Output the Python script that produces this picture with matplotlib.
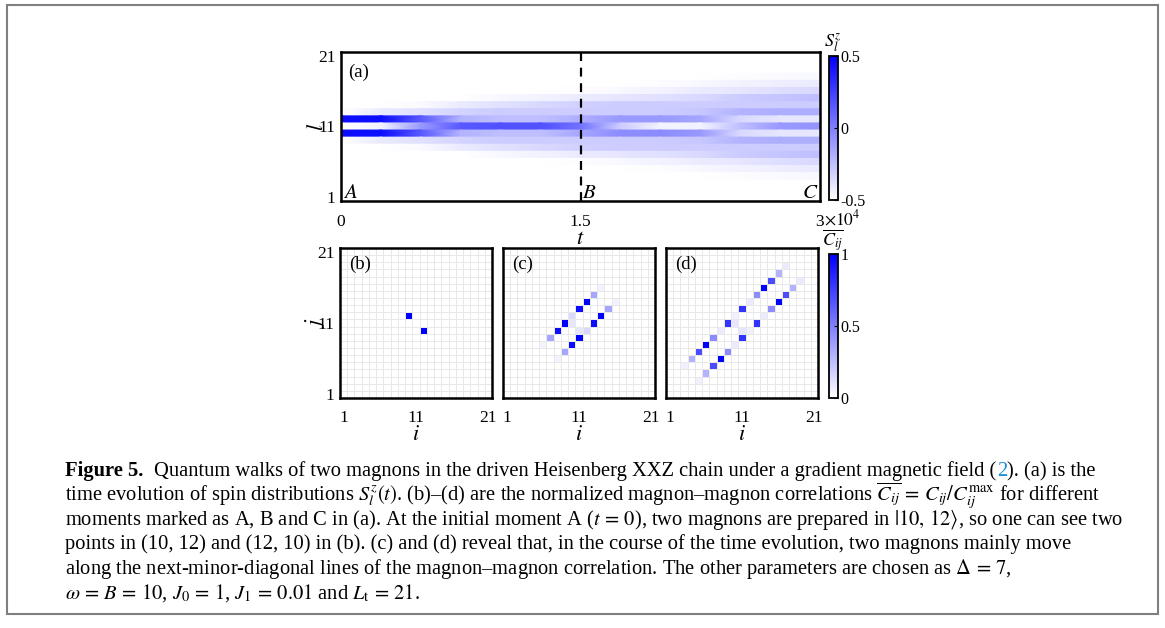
import numpy as np
import matplotlib
matplotlib.use("Agg")
import matplotlib.pyplot as plt
from matplotlib.colors import LinearSegmentedColormap
from matplotlib.patches import Rectangle
from matplotlib.transforms import IdentityTransform

plt.rcParams['font.family'] = ['Liberation Serif', 'DejaVu Serif']
plt.rcParams['mathtext.fontset'] = 'stix'

# ---- data ----
# (a) spin distribution S_l^z(t), time in units of 1e4
t_knots = [0, 0.25, 0.5, 0.75, 1.0, 1.25, 1.5, 1.75, 2.0, 2.25, 2.5, 2.75, 3.0]
sites = [18, 17, 16, 15, 14, 13, 12, 11, 10, 9, 8, 7, 6, 5, 4]
sz_rows = [
    [-.5, -.5, -.5, -.5, -.5, -.5, -.5, -.5, -.5, -.5, -.49, -.48, -.47],
    [-.5, -.5, -.5, -.5, -.5, -.5, -.5, -.5, -.49, -.47, -.45, -.43, -.42],
    [-.5, -.5, -.5, -.5, -.5, -.5, -.49, -.47, -.45, -.42, -.4, -.37, -.35],
    [-.5, -.5, -.5, -.5, -.47, -.45, -.42, -.4, -.38, -.35, -.3, -.27, -.25],
    [-.5, -.5, -.48, -.42, -.38, -.35, -.32, -.3, -.3, -.3, -.3, -.3, -.3],
    [-.5, -.42, -.38, -.33, -.3, -.3, -.3, -.3, -.3, -.28, -.2, -.18, -.18],
    [.45, .45, .15, -.2, -.25, -.25, -.18, -.1, -.1, -.15, -.35, -.4, -.4],
    [-.5, -.45, -.1, .15, .18, .18, .05, -.3, -.45, -.45, -.25, -.1, -.08],
    [.45, .45, .15, -.2, -.25, -.25, -.15, -.05, -.05, -.1, -.35, -.4, -.4],
    [-.5, -.42, -.38, -.33, -.3, -.3, -.3, -.3, -.3, -.28, -.2, -.18, -.18],
    [-.5, -.5, -.48, -.42, -.38, -.35, -.32, -.3, -.3, -.3, -.3, -.3, -.3],
    [-.5, -.5, -.5, -.5, -.47, -.45, -.42, -.4, -.38, -.35, -.3, -.27, -.25],
    [-.5, -.5, -.5, -.5, -.5, -.5, -.49, -.47, -.45, -.42, -.4, -.37, -.35],
    [-.5, -.5, -.5, -.5, -.5, -.5, -.5, -.5, -.49, -.47, -.45, -.43, -.42],
    [-.5, -.5, -.5, -.5, -.5, -.5, -.5, -.5, -.5, -.5, -.49, -.48, -.47],
]

# (b)-(d) normalized correlations along the line j = i + 2 (matrix is symmetric)
i_b = [10]
c_b = [1.0]
i_c = [6, 7, 8, 9, 10, 11, 12, 13, 14]
c_c = [0.05, 0.35, 0.95, 1.0, 0.15, 0.95, 1.0, 0.35, 0.05]
i_d = [3, 4, 5, 6, 7, 8, 9, 10, 11, 12, 13, 14, 15, 16, 17]
c_d = [0.06, 0.3, 0.7, 1.0, 0.45, 0.08, 0.8, 0.06, 0.8, 0.08, 0.45, 1.0, 0.7, 0.3, 0.08]
# weak cells next to the diagonal (i, i+1)
i_near_c = [10]
c_near_c = [0.1]
i_near_d = [10]
c_near_d = [0.1]

W, H = 1165, 628
fig = plt.figure(figsize=(W / 100, H / 100), dpi=100)


def box(x0, y0, x1, y1):
    return [x0 / W, 1 - y1 / H, (x1 - x0) / W, (y1 - y0) / H]


def ptext(x, y, s, **kw):
    return fig.text(x / W, 1 - y / H, s, **kw)


cmap = LinearSegmentedColormap.from_list('wb', ['white', '#0000ff'])

# ---- panel (a) ----
ax = fig.add_axes(box(341, 52, 820, 201))
t = np.array(t_knots) * 1e4
for l, row in zip(sites, sz_rows):
    X = np.vstack([t, t])
    Y = np.vstack([np.full(len(t), l - 0.5), np.full(len(t), l + 0.5)])
    C = np.vstack([row, row])
    pm = ax.pcolormesh(X, Y, C, shading='gouraud', cmap=cmap, vmin=-0.5, vmax=0.5)
ax.set_xlim(0, 3e4)
ax.set_ylim(0.5, 21.5)
ax.axvline(1.5e4, color='k', lw=1.6, dashes=(4, 3))
ax.set_xticks([0, 1.5e4, 3e4])
ax.set_xticklabels(['0', '1.5', '3'])
ax.set_yticks([1, 11, 21])
ax.tick_params(labelsize=12.5, length=0)
ax.tick_params(axis='x', pad=9)
ax.tick_params(axis='y', pad=4)
ax.set_xlabel('$t$', fontsize=16, labelpad=0)
ax.set_ylabel('$l$', fontsize=16, labelpad=-7)
for s in ax.spines.values():
    s.set_linewidth(1.8)
ax.text(0.015, 0.92, '(a)', transform=ax.transAxes, fontsize=13.5, va='top')
ax.text(0.005, 0.02, '$A$', transform=ax.transAxes, fontsize=15)
ax.text(0.503, 0.02, '$B$', transform=ax.transAxes, fontsize=15)
ax.text(0.962, 0.02, '$C$', transform=ax.transAxes, fontsize=15)
ptext(824, 225, r'$\times10^4$', fontsize=12.5, va='baseline')

cax = fig.add_axes(box(829, 56, 838, 200))
cb = fig.colorbar(pm, cax=cax, ticks=[-0.5, 0, 0.5])
cb.ax.set_yticklabels(['-0.5', '0', '0.5'])
cb.ax.tick_params(labelsize=11.5, direction='in', length=3, width=0.8, pad=2)
cb.outline.set_linewidth(1.3)
ptext(833, 48, '$S_l^z$', fontsize=13, ha='center')

# ---- panels (b)-(d) ----
edges = np.arange(0.5, 22.5)
panels = [
    ('(b)', 340, i_b, c_b, [], []),
    ('(c)', 503, i_c, c_c, i_near_c, c_near_c),
    ('(d)', 666, i_d, c_d, i_near_d, c_near_d),
]
for k, (lab, x0, iv, cv, inear, cnear) in enumerate(panels):
    M = np.zeros((21, 21))
    for i, v in zip(iv, cv):
        M[i + 1, i - 1] = v
        M[i - 1, i + 1] = v
    for i, v in zip(inear, cnear):
        M[i, i - 1] = v
        M[i - 1, i] = v
    axp = fig.add_axes(box(x0, 248, x0 + 152, 398))
    pm2 = axp.pcolormesh(edges, edges, M, cmap=cmap, vmin=0, vmax=1,
                         edgecolors='#e8e8e8', linewidth=0.5)
    axp.set_xlim(0.5, 21.5)
    axp.set_ylim(0.5, 21.5)
    axp.set_xticks([1, 11, 21])
    axp.set_yticks([1, 11, 21])
    axp.tick_params(labelsize=12.5, length=0)
    axp.tick_params(axis='x', pad=9)
    axp.tick_params(axis='y', pad=4)
    if k > 0:
        axp.set_yticklabels([])
    else:
        axp.set_ylabel('$j$', fontsize=16, labelpad=-7)
    axp.set_xlabel('$i$', fontsize=16, labelpad=0)
    for s in axp.spines.values():
        s.set_linewidth(1.8)
    axp.text(0.06, 0.95, lab, transform=axp.transAxes, fontsize=13.5, va='top')

cax2 = fig.add_axes(box(829, 254, 838, 398))
cb2 = fig.colorbar(pm2, cax=cax2, ticks=[0, 0.5, 1])
cb2.ax.set_yticklabels(['0', '0.5', '1'])
cb2.ax.tick_params(labelsize=11.5, direction='in', length=3, width=0.8, pad=2)
cb2.outline.set_linewidth(1.3)
ptext(833, 246, r'$\overline{C_{ij}}$', fontsize=13, ha='center')

# ---- caption ----
fig.canvas.draw()
renderer = fig.canvas.get_renderer()
fs = 14.8
x = 65
y0 = 476
pieces = [('Figure 5.', 'k', 'bold'),
          ('Quantum walks of two magnons in the driven Heisenberg XXZ chain under a gradient magnetic field (', 'k', 'normal'),
          ('2', '#1a8fd6', 'normal'),
          ('). (a) is the', 'k', 'normal')]
for n, (s, c, w) in enumerate(pieces):
    tx = fig.text(x, H - y0, s, transform=IdentityTransform(), fontsize=fs,
                  color=c, fontweight=w, va='baseline')
    x += tx.get_window_extent(renderer).width
    if n == 0:
        x += 11

lines = [
    r'time evolution of spin distributions $S_l^z(t)$. (b)–(d) are the normalized magnon–magnon correlations $\overline{C_{ij}}\,=\,C_{ij}/C_{ij}^{\max}$ for different',
    r'moments marked as A, B and C in (a). At the initial moment A ($t\,=\,0$), two magnons are prepared in $|10,\,12\rangle$, so one can see two',
    'points in (10, 12) and (12, 10) in (b). (c) and (d) reveal that, in the course of the time evolution, two magnons mainly move',
    r'along the next-minor-diagonal lines of the magnon–magnon correlation. The other parameters are chosen as $\Delta\,=\,7$,',
    r'$\omega\,=\,B\,=\,10$, $J_0\,=\,1$, $J_1\,=\,0.01$ and $L_{\rm t}\,=\,21$.',
]
for n, s in enumerate(lines):
    fig.text(65, H - (y0 + 24.5 * (n + 1)), s, transform=IdentityTransform(),
             fontsize=fs, va='baseline')

fig.patches.append(Rectangle((7 / W, 1 - 614 / H), 1151 / W, 609 / H,
                             transform=fig.transFigure, fill=False,
                             edgecolor='#7f7f7f', lw=1.5))

fig.savefig('out.png', dpi=100)
